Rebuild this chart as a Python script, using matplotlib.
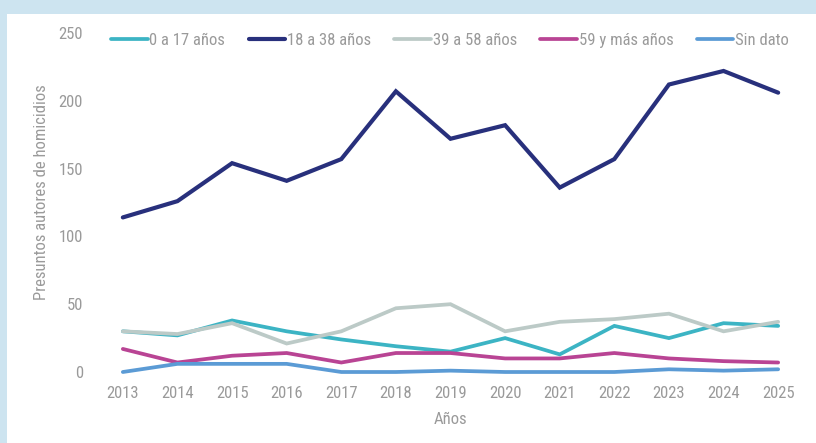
import matplotlib
matplotlib.use("Agg")
import matplotlib.pyplot as plt

plt.rcParams['font.family'] = ['Roboto Condensed', 'Liberation Sans Narrow', 'Roboto', 'DejaVu Sans']

# datos
anios = [2013, 2014, 2015, 2016, 2017, 2018, 2019, 2020, 2021, 2022, 2023, 2024, 2025]
edad_0_17 = [30, 27, 38, 30, 24, 19, 15, 25, 13, 34, 25, 36, 34]
edad_18_38 = [114, 126, 154, 141, 157, 207, 172, 182, 136, 157, 212, 222, 206]
edad_39_58 = [30, 28, 36, 21, 30, 47, 50, 30, 37, 39, 43, 30, 37]
edad_59_mas = [17, 7, 12, 14, 7, 14, 14, 10, 10, 14, 10, 8, 7]
sin_dato = [0, 6, 6, 6, 0, 0, 1, 0, 0, 0, 2, 1, 2]

series = [
    ("0 a 17 años", edad_0_17, "#3cb4c4"),
    ("18 a 38 años", edad_18_38, "#28307c"),
    ("39 a 58 años", edad_39_58, "#bccac7"),
    ("59 y más años", edad_59_mas, "#b94494"),
    ("Sin dato", sin_dato, "#5b9bd5"),
]

gris = "#9a9a9a"

fig = plt.figure(figsize=(8.16, 4.43), dpi=100)
fig.patch.set_facecolor("#cde4f0")
# panel blanco detras de todo
fig.patches.append(plt.Rectangle((7 / 816, 0), 1, 1 - 14 / 443, transform=fig.transFigure,
                                 facecolor="white", edgecolor="none", zorder=-10))

ax = fig.add_axes([101 / 816, 1 - 372 / 443, 699 / 816, (372 - 33) / 443])
ax.set_facecolor("none")
ax.set_zorder(5)

for nombre, valores, color in series:
    lw = 3.0 if nombre == "18 a 38 años" else 2.7
    ax.plot(anios, valores, color=color, lw=lw, label=nombre, clip_on=False,
            solid_capstyle="round", solid_joinstyle="miter")

ax.set_xlim(2012.6, 2025.4)
ax.set_ylim(0, 250)
ax.set_xticks(anios)
ax.set_yticks([0, 50, 100, 150, 200, 250])
ax.tick_params(length=0, labelsize=12, labelcolor=gris)
ax.tick_params(axis="y", pad=13)
ax.tick_params(axis="x", pad=10)
for s in ax.spines.values():
    s.set_visible(False)

ax.set_xlabel("Años", fontsize=12, color=gris, labelpad=8)
ax.set_ylabel("Presuntos autores de homicidios", fontsize=12, color=gris)
ax.yaxis.set_label_coords(-0.074, 0.53)

leg = fig.legend(loc="center", bbox_to_anchor=(450 / 816, 1 - 40 / 443), ncol=5, frameon=False,
                 fontsize=12, labelcolor=gris, handlelength=2.2, handletextpad=0.1,
                 columnspacing=1.4)
leg.set_zorder(6)

fig.savefig("out.png", dpi=100, facecolor=fig.get_facecolor())
